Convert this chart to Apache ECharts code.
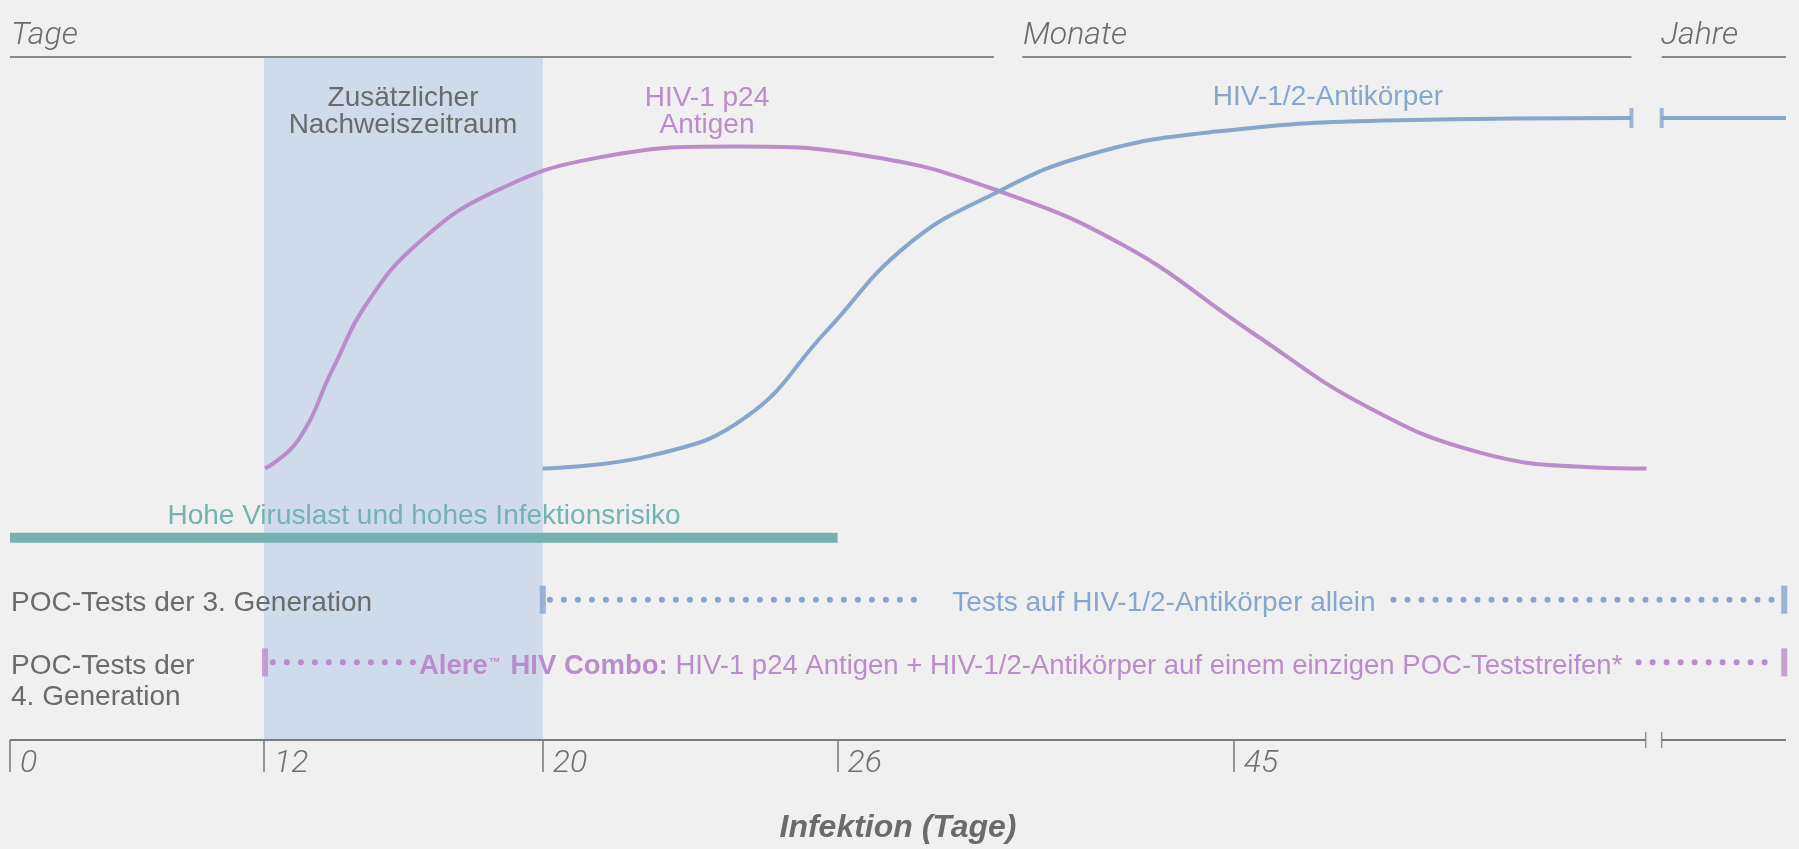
<!DOCTYPE html>
<html>
<head>
<meta charset="utf-8">
<script src="https://cdn.jsdelivr.net/npm/echarts@6/dist/echarts.min.js"></script>
<style>
html, body { margin: 0; padding: 0; background: #f0f0f0; }
#main { width: 1799px; height: 849px; }
</style>
</head>
<body>
<div id="main"></div>
<script>
// schematische Zeitachse 0..100 (nicht linear in Tagen)
var tickPos = [0, 14.3, 30.0, 46.6, 68.9];
var tickLabels = ['0', '12', '20', '26', '45'];
var breakPos = [92.1, 93.0];

// HIV-1 p24 Antigen
var p24X = [14.36, 16.23, 18.17, 20.11, 23.02, 27.21, 33.03, 40.78, 48.53, 55.32, 62.75, 69.85, 76.31, 82.77, 89.23, 92.14];
var p24Y = [39.74, 43.92, 54.29, 63.99, 72.85, 80.21, 85.23, 86.90, 85.40, 80.71, 72.35, 59.81, 48.94, 42.08, 39.91, 39.74];

// HIV-1/2-Antikörper
var abX = [29.99, 36.26, 41.43, 45.95, 50.47, 55.32, 60.81, 67.91, 78.25, 91.30];
var abY = [39.74, 41.75, 47.26, 59.81, 72.35, 79.88, 85.73, 89.08, 90.75, 91.08];
var abLateX = [93.0, 100];
var abLateY = [91.08, 91.08];

var windowRange = [14.3, 30.0];
var viralRange = [0, 46.6];
var viralLevel = 29.6;
var gen3Level = 20.55;
var gen4Level = 11.37;
var gen3Dots = [[30.4, 51.1], [77.9, 99.3]];
var gen4Dots = [[14.8, 22.8], [91.7, 99.3]];
var gen3Caps = [30.0, 99.9];
var gen4Caps = [14.36, 99.9];

var periods = ['Tage', 'Monate', 'Jahre'];
var periodRanges = [[0, 55.4], [57.0, 91.3], [93.0, 100]];

var GRAY = '#6b6b6b';
var PURPLE = '#bb8ccb';
var BLUE = '#86a6d0';
var TEAL = '#74b3b1';
var FONT = "'Liberation Sans', Arial, sans-serif";
var LIGHT = "Roboto, 'Liberation Sans', sans-serif";

function pts(xs, ys) {
	return xs.map(function(x, i) { return [x, ys[i]]; });
}

function flatLine(name, a, b, y, color, width, type) {
	return {
		name: name,
		type: 'line',
		clip: false,
		silent: true,
		symbol: 'none',
		data: [[a, y], [b, y]],
		lineStyle: { color: color, width: width, type: type || 'solid', cap: type ? 'round' : 'butt' },
		z: 3
	};
}

function caps(name, xs, y, color, size) {
	return {
		name: name,
		type: 'scatter',
		clip: false,
		silent: true,
		symbol: 'rect',
		symbolSize: size,
		data: xs.map(function(x) { return [x, y]; }),
		itemStyle: { color: color },
		z: 4
	};
}

function curve(name, xs, ys, color) {
	return {
		name: name,
		type: 'line',
		smooth: 0.45,
		symbol: 'none',
		clip: false,
		data: pts(xs, ys),
		lineStyle: { color: color, width: 4 },
		z: 3
	};
}

var series = [];

// zusätzlicher Nachweiszeitraum
series.push({
	name: 'window',
	type: 'line',
	data: [],
	markArea: {
		silent: true,
		itemStyle: { color: '#cfdbea' },
		data: [[{ xAxis: windowRange[0], yAxis: 0 }, { xAxis: windowRange[1], yAxis: 100 }]]
	},
	z: 1
});

// obere Zeitabschnitte
periodRanges.forEach(function(r, i) {
	series.push(flatLine(periods[i], r[0], r[1], 100, '#8a8a8a', 2));
});

// untere Achse mit Unterbrechung
series.push(flatLine('axis1', 0, breakPos[0], 0, '#7a7a7a', 2));
series.push(flatLine('axis2', breakPos[1], 100, 0, '#7a7a7a', 2));
series.push(caps('axisBreak', breakPos, 0, '#7a7a7a', [1.5, 16]));

series.push(curve('HIV-1 p24 Antigen', p24X, p24Y, PURPLE));
series.push(curve('HIV-1/2-Antikörper', abX, abY, BLUE));
series.push(curve('HIV-1/2-Antikörper (Jahre)', abLateX, abLateY, BLUE));
series.push(caps('abCaps', [abX[abX.length - 1], abLateX[0]], abLateY[0], BLUE, [4, 20]));

// hohe Viruslast
series.push(flatLine('viral', viralRange[0], viralRange[1], viralLevel, TEAL, 10));

// POC-Tests
gen3Dots.forEach(function(d, i) {
	series.push(flatLine('gen3_' + i, d[0], d[1], gen3Level, BLUE, 6, [0, 14]));
});
gen4Dots.forEach(function(d, i) {
	series.push(flatLine('gen4_' + i, d[0], d[1], gen4Level, PURPLE, 6, [0, 14]));
});
series.push(caps('gen3Caps', gen3Caps, gen3Level, BLUE, [6, 28]));
series.push(caps('gen4Caps', gen4Caps, gen4Level, PURPLE, [6, 28]));

function txt(text, x, y, color, opts) {
	opts = opts || {};
	return {
		type: 'text',
		x: x,
		y: y,
		silent: true,
		z: 10,
		style: Object.assign({
			text: text,
			fill: color,
			fontSize: 28,
			fontFamily: FONT,
			align: 'center',
			verticalAlign: 'middle',
			lineHeight: 27
		}, opts)
	};
}

var periodStyle = { align: 'left', fontSize: 32, fontStyle: 'italic', fontWeight: 300, fontFamily: LIGHT };

var graphics = [
	txt('Tage', 11, 36, GRAY, periodStyle),
	txt('Monate', 1023, 36, GRAY, periodStyle),
	txt('Jahre', 1661, 36, GRAY, periodStyle),
	txt('Zusätzlicher\nNachweiszeitraum', 403, 112, GRAY),
	txt('HIV-1 p24\nAntigen', 707, 112, PURPLE),
	txt('HIV-1/2-Antikörper', 1328, 97, BLUE),
	txt('Hohe Viruslast und hohes Infektionsrisiko', 424, 516, TEAL),
	txt('POC-Tests der 3. Generation', 11, 603, GRAY, { align: 'left' }),
	txt('POC-Tests der\n4. Generation', 11, 682, GRAY, { align: 'left', lineHeight: 31 }),
	txt('Tests auf HIV-1/2-Antikörper allein', 1164, 603, BLUE),
	txt('{b|Alere}{tm|™}{b| HIV Combo:} HIV-1 p24 Antigen + HIV-1/2-Antikörper auf einem einzigen POC-Teststreifen*', 419, 666, PURPLE, {
		align: 'left',
		fontSize: 27.5,
		rich: {
			b: { fontWeight: 'bold', fontSize: 27.5, fontFamily: FONT, fill: PURPLE },
			tm: { fontWeight: 'bold', fontSize: 12, fontFamily: FONT, fill: PURPLE, verticalAlign: 'top', padding: [4, 2, 0, 1] }
		}
	})
];

var chart = echarts.init(document.getElementById('main'));
chart.setOption({
	backgroundColor: '#f0f0f0',
	animation: false,
	grid: { left: 10, right: 13, top: 57, bottom: 106 },
	xAxis: {
		type: 'value',
		min: 0,
		max: 100,
		name: 'Infektion (Tage)',
		nameLocation: 'middle',
		nameGap: 72,
		nameTextStyle: { fontSize: 32, fontWeight: 'bold', fontStyle: 'italic', color: GRAY, fontFamily: FONT },
		axisLine: { show: false },
		splitLine: { show: false },
		axisTick: {
			show: true,
			customValues: tickPos,
			length: 32,
			lineStyle: { color: '#777', width: 1.5 }
		},
		axisLabel: {
			customValues: tickPos,
			formatter: function(v) {
				var i = tickPos.indexOf(v);
				return i >= 0 ? tickLabels[i] : '';
			},
			align: 'left',
			padding: [0, 0, 0, 10],
			margin: 8,
			fontSize: 32,
			fontStyle: 'italic',
			fontWeight: 300,
			fontFamily: LIGHT,
			color: '#707070'
		}
	},
	yAxis: { type: 'value', min: 0, max: 100, show: false },
	series: series,
	graphic: graphics
});
</script>
</body>
</html>
